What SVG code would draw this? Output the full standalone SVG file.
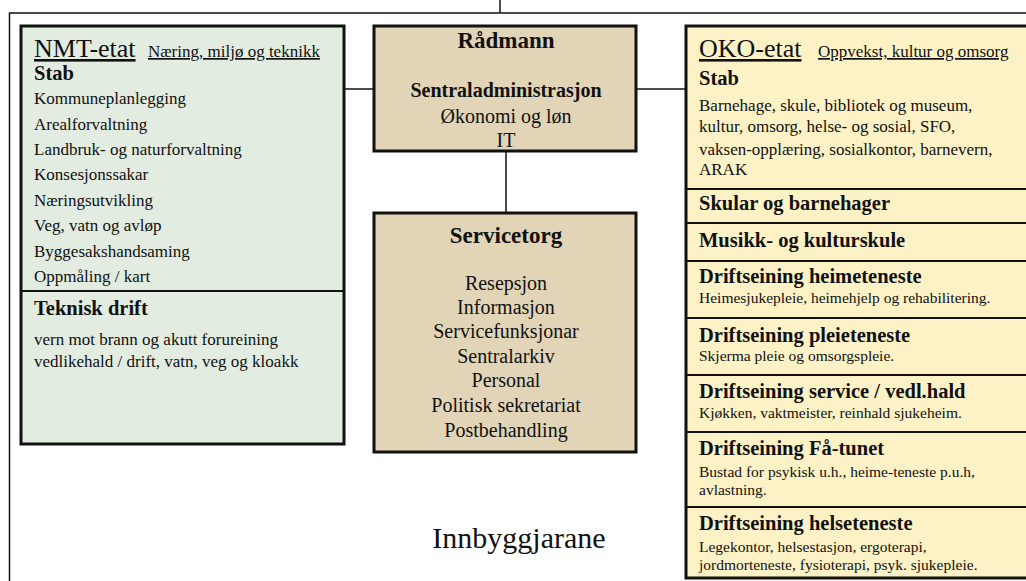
<svg xmlns="http://www.w3.org/2000/svg" width="1026" height="581" viewBox="0 0 1026 581">
<style>
text{font-family:"Liberation Serif","Times New Roman",serif;fill:#111}
.box{stroke:#111;stroke-width:3}
.div{stroke:#111;stroke-width:2}
.con{stroke:#111;stroke-width:1.5;fill:none}
.big{font-size:26px;text-decoration:underline}
.sub{font-size:17px;text-decoration:underline}
.hd{font-size:20.5px;font-weight:bold}
.it{font-size:17px}
.sm{font-size:15.5px}
.ctr{text-anchor:middle}
.cit{font-size:20px}
</style>
<rect width="1026" height="581" fill="#fff"/>
<g id="connectors">
<line class="con" x1="500" y1="0" x2="500" y2="13"/>
<polyline class="con" points="9.5,581 9.5,13 1026,13"/>
<line class="con" x1="344" y1="89" x2="374" y2="89"/>
<line class="con" x1="636" y1="89" x2="686" y2="89"/>
<line class="con" x1="506" y1="151" x2="506" y2="213"/>
</g>
<g id="nmt">
<rect class="box" x="21" y="26" width="323" height="418" fill="#e2ece0"/>
<line class="div" x1="21" y1="291" x2="344" y2="291"/>
<text class="big" x="34" y="57">NMT-etat</text>
<text class="sub" x="148" y="57">Næring, miljø og teknikk</text>
<text class="hd" x="34" y="80">Stab</text>
<text class="it" x="34" y="104">Kommuneplanlegging</text>
<text class="it" x="34" y="129.5">Arealforvaltning</text>
<text class="it" x="34" y="155">Landbruk- og naturforvaltning</text>
<text class="it" x="34" y="180">Konsesjonssakar</text>
<text class="it" x="34" y="205.5">Næringsutvikling</text>
<text class="it" x="34" y="231">Veg, vatn og avløp</text>
<text class="it" x="34" y="256.5">Byggesakshandsaming</text>
<text class="it" x="34" y="282">Oppmåling / kart</text>
<text class="hd" x="34" y="315">Teknisk drift</text>
<text class="it" x="34" y="345">vern mot brann og akutt forureining</text>
<text class="it" x="34" y="367">vedlikehald  / drift, vatn, veg og kloakk</text>
</g>
<g id="radmann">
<rect class="box" x="374" y="26" width="262" height="125" fill="#e1d4b7"/>
<text class="ctr" x="506" y="48" style="font-size:23px;font-weight:bold">Rådmann</text>
<text class="ctr" x="506" y="97" style="font-size:20px;font-weight:bold">Sentraladministrasjon</text>
<text class="ctr cit" x="506" y="123">Økonomi og løn</text>
<text class="ctr cit" x="506" y="147">IT</text>
</g>
<g id="servicetorg">
<rect class="box" x="374" y="213" width="262" height="239" fill="#e1d4b7"/>
<text class="ctr" x="506" y="243" style="font-size:23px;font-weight:bold">Servicetorg</text>
<text class="ctr cit" x="506" y="290">Resepsjon</text>
<text class="ctr cit" x="506" y="314">Informasjon</text>
<text class="ctr cit" x="506" y="338">Servicefunksjonar</text>
<text class="ctr cit" x="506" y="363">Sentralarkiv</text>
<text class="ctr cit" x="506" y="387">Personal</text>
<text class="ctr cit" x="506" y="412">Politisk sekretariat</text>
<text class="ctr cit" x="506" y="437">Postbehandling</text>
</g>
<g id="innbyggjarane">
<text class="ctr" x="519" y="548" style="font-size:30px">Innbyggjarane</text>
</g>
<g id="oko">
<rect class="box" x="686" y="26" width="345" height="552" fill="#fdf2c5"/>
<line class="div" x1="686" y1="189" x2="1026" y2="189"/>
<line class="div" x1="686" y1="223" x2="1026" y2="223"/>
<line class="div" x1="686" y1="261" x2="1026" y2="261"/>
<line class="div" x1="686" y1="318" x2="1026" y2="318"/>
<line class="div" x1="686" y1="375" x2="1026" y2="375"/>
<line class="div" x1="686" y1="432" x2="1026" y2="432"/>
<line class="div" x1="686" y1="507" x2="1026" y2="507"/>
<text class="big" x="699" y="57">OKO-etat</text>
<text class="sub" x="818" y="57">Oppvekst, kultur og omsorg</text>
<text class="hd" x="699" y="85">Stab</text>
<text class="it" x="699" y="111">Barnehage, skule, bibliotek og museum,</text>
<text class="it" x="699" y="132">kultur, omsorg, helse- og sosial, SFO,</text>
<text class="it" x="699" y="155">vaksen-opplæring, sosialkontor, barnevern,</text>
<text class="it" x="699" y="175">ARAK</text>
<text class="hd" x="699" y="210">Skular og barnehager</text>
<text class="hd" x="699" y="247">Musikk- og kulturskule</text>
<text class="hd" x="699" y="283">Driftseining heimeteneste</text>
<text class="sm" x="699" y="303">Heimesjukepleie, heimehjelp og rehabilitering.</text>
<text class="hd" x="699" y="342">Driftseining pleieteneste</text>
<text class="sm" x="699" y="361">Skjerma pleie og omsorgspleie.</text>
<text class="hd" x="699" y="398">Driftseining service / vedl.hald</text>
<text class="sm" x="699" y="418">Kjøkken, vaktmeister, reinhald sjukeheim.</text>
<text class="hd" x="699" y="455">Driftseining Få-tunet</text>
<text class="sm" x="699" y="477">Bustad for psykisk u.h., heime-teneste p.u.h,</text>
<text class="sm" x="699" y="495">avlastning.</text>
<text class="hd" x="699" y="530">Driftseining helseteneste</text>
<text class="sm" x="699" y="552">Legekontor, helsestasjon, ergoterapi,</text>
<text class="sm" x="699" y="570">jordmorteneste, fysioterapi, psyk. sjukepleie.</text>
</g>
</svg>
